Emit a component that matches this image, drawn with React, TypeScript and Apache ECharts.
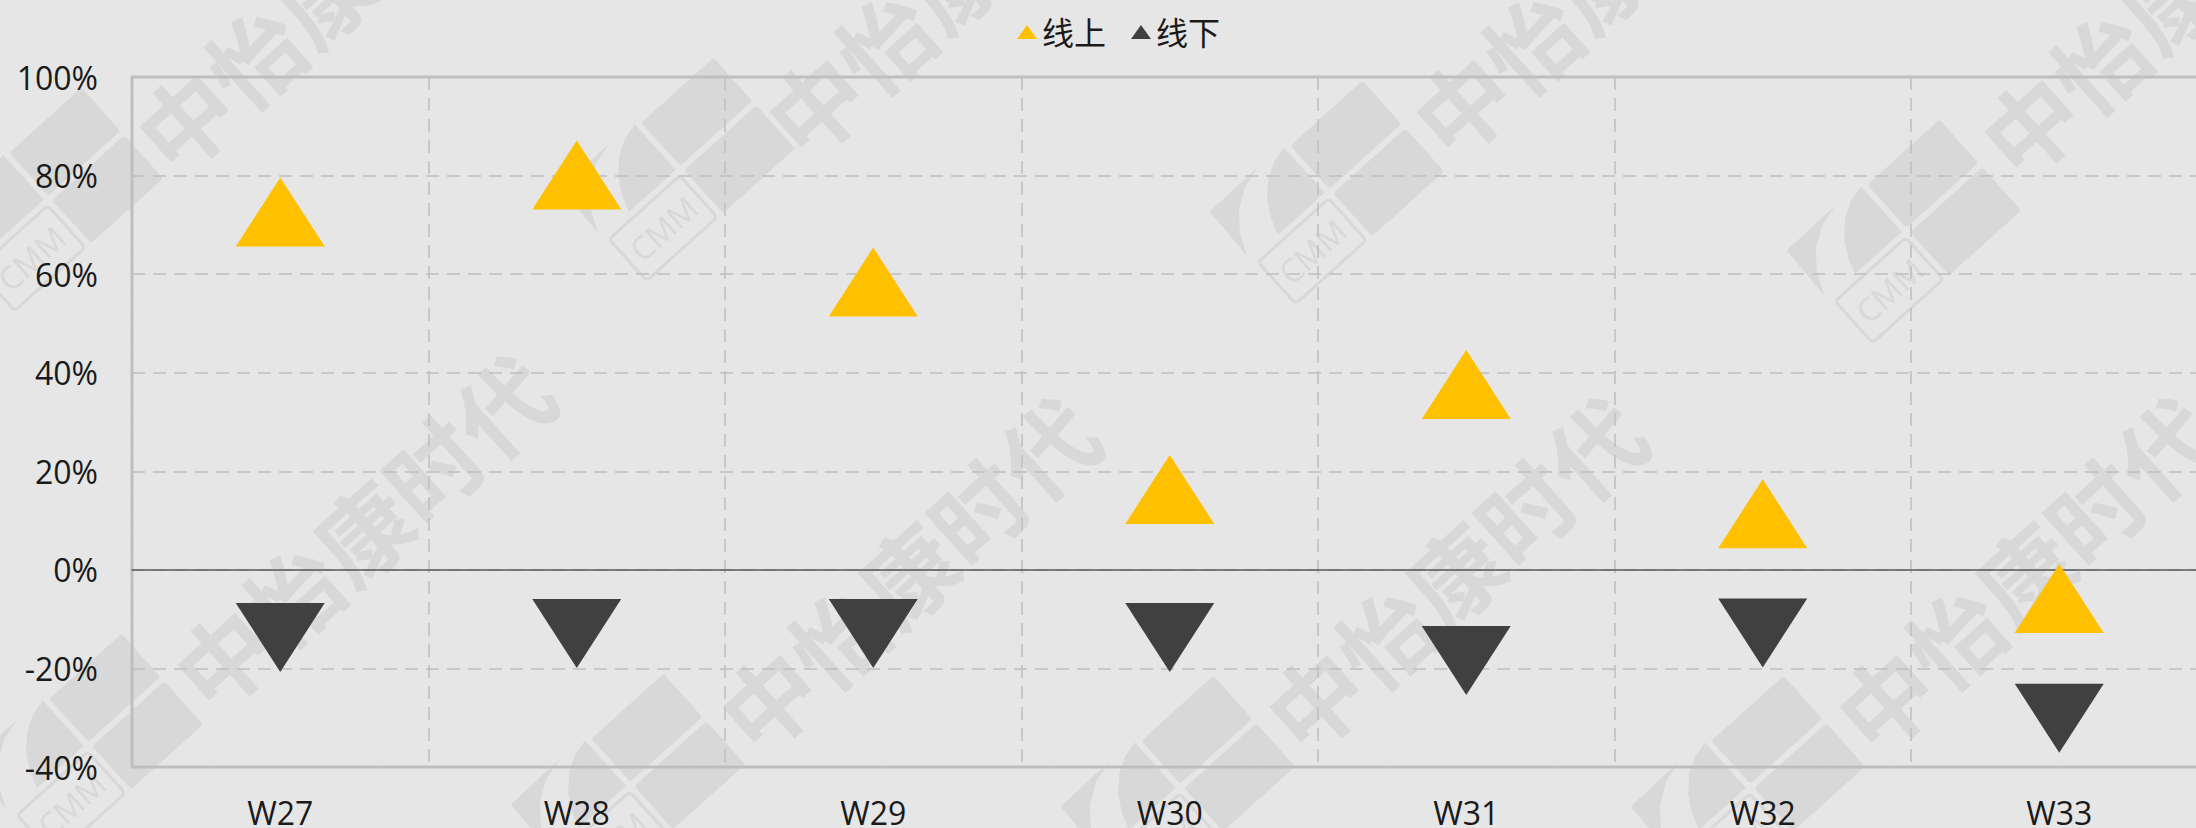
import React, { useEffect, useRef } from "react";
import * as echarts from "echarts";

const categories = ["W27", "W28", "W29", "W30", "W31", "W32", "W33"];
const aboveLine = [72.6, 80.1, 58.4, 16.3, 37.6, 11.4, -5.8];
const belowLine = [-13.7, -12.9, -12.9, -13.7, -18.4, -12.8, -30.1];
const seriesNames = ["线上", "线下"];
const yMin = -40;
const yMax = 100;
const yStep = 20;

const FONT = "'Open Sans', 'Noto Sans CJK SC', sans-serif";
const WM_COLOR = "#d8d8d8";
const WM_ANGLE = (42 * Math.PI) / 180;
// anchor of the first glyph of each watermark text
const wmTextAnchors: [number, number][] = [
  [180, 120], [810, 105], [1457, 105], [2025, 125],
  [218, 658], [763, 700], [1310, 700], [1880, 700],
];
const wmLogoCenters: [number, number][] = [
  [48, 200], [680, 170], [1329, 193], [1906, 232],
  [88, 746], [630, 786], [1180, 788], [1750, 788],
];

function wmText(ax: number, ay: number) {
  return {
    type: "text",
    x: ax + 143,
    y: ay - 128,
    rotation: WM_ANGLE,
    z: -1,
    silent: true,
    style: {
      text: "中怡康时代",
      fill: WM_COLOR,
      fontSize: 94,
      fontWeight: "bold",
      fontFamily: "'Noto Sans CJK SC', sans-serif",
      textAlign: "center",
      align: "center",
      textVerticalAlign: "middle",
      verticalAlign: "middle",
    },
  };
}

function wmLogo(cx: number, cy: number) {
  const fill = { fill: WM_COLOR };
  return {
    type: "group",
    x: cx,
    y: cy,
    rotation: WM_ANGLE,
    silent: true,
    children: [
      { type: "rect", z: -1, shape: { x: 3, y: -61, width: 97, height: 58, r: 3 }, style: fill },
      { type: "rect", z: -1, shape: { x: 3, y: 3, width: 97, height: 58, r: 3 }, style: fill },
      {
        type: "rect",
        z: -1,
        shape: { x: -99, y: 4, width: 95, height: 56, r: 4 },
        style: { fill: "none", stroke: WM_COLOR, lineWidth: 3 },
      },
      {
        type: "text",
        z: -1,
        x: -51.5,
        y: 32,
        style: {
          text: "CMM",
          fill: WM_COLOR,
          fontSize: 32,
          fontFamily: "'Open Sans', sans-serif",
          textAlign: "center",
          align: "center",
          textVerticalAlign: "middle",
          verticalAlign: "middle",
        },
      },
      {
        type: "polygon",
        z: -1,
        shape: {
          points: [[-3, -64], [-3, -3], [-66, -3], [-60, -20], [-50, -37], [-36, -51], [-20, -60]],
        },
        style: fill,
      },
      {
        type: "polygon",
        z: -1,
        shape: {
          points: [[-35, -67], [-101, -66], [-103, -8], [-93, -30], [-78, -48], [-58, -61]],
        },
        style: fill,
      },
    ],
  };
}

export default function App() {
  const ref = useRef<HTMLDivElement>(null);

  useEffect(() => {
    if (!ref.current) return;
    const chart = echarts.init(ref.current, undefined, { renderer: "svg" });

    const graphics: any[] = [];
    wmLogoCenters.forEach(([x, y]) => graphics.push(wmLogo(x, y)));
    wmTextAnchors.forEach(([x, y]) => graphics.push(wmText(x, y)));

    chart.setOption({
      animation: false,
      backgroundColor: "#e7e6e6",
      textStyle: { fontFamily: FONT },
      graphic: { elements: graphics },
      legend: {
        left: 1012,
        top: 9,
        itemWidth: 20,
        itemHeight: 14,
        itemGap: 25,
        symbolRotate: 0,
        selectedMode: false,
        textStyle: { fontSize: 32, lineHeight: 36, color: "#1a1a1a", fontFamily: FONT },
        data: [
          { name: seriesNames[0], icon: "triangle" },
          { name: seriesNames[1], icon: "triangle", itemStyle: { color: "#404040" } },
        ],
      },
      grid: {
        left: 132,
        top: 77,
        width: 2075.5,
        height: 690,
        outerBoundsMode: "none",
        containLabel: false,
        show: true,
        backgroundColor: "transparent",
        borderColor: "#bfbfbf",
        borderWidth: 3,
      },
      xAxis: {
        type: "category",
        data: categories,
        boundaryGap: true,
        axisLine: { onZero: true, lineStyle: { color: "#595959", width: 1.5 } },
        axisTick: { show: false },
        axisLabel: {
          fontSize: 32,
          lineHeight: 32,
          margin: 29,
          color: "#1a1a1a",
          fontFamily: FONT,
          interval: 0,
        },
        splitLine: {
          show: true,
          interval: 0,
          lineStyle: { color: "#bfbfbf", width: 1.5, type: [13, 8] },
        },
      },
      yAxis: {
        type: "value",
        min: yMin,
        max: yMax,
        interval: yStep,
        axisLine: { show: false },
        axisTick: { show: false },
        axisLabel: {
          formatter: "{value}%",
          fontSize: 32,
          margin: 34,
          color: "#1a1a1a",
          fontFamily: FONT,
        },
        splitLine: {
          show: true,
          lineStyle: { color: "#bfbfbf", width: 1.5, type: [13, 8] },
        },
      },
      series: [
        {
          name: seriesNames[0],
          type: "scatter",
          data: aboveLine,
          symbol: "triangle",
          symbolSize: [89, 69],
          itemStyle: { color: "#FFC000", opacity: 1 },
          z: 3,
        },
        {
          name: seriesNames[1],
          type: "scatter",
          data: belowLine,
          symbol: "triangle",
          symbolRotate: 180,
          symbolSize: [89, 69],
          itemStyle: { color: "#404040", opacity: 1 },
          z: 3,
        },
      ],
    });

    return () => chart.dispose();
  }, []);

  return (
    <div
      ref={ref}
      style={{
        position: "absolute",
        left: 0,
        top: 0,
        width: 2196,
        height: 828,
        overflow: "hidden",
      }}
    />
  );
}
